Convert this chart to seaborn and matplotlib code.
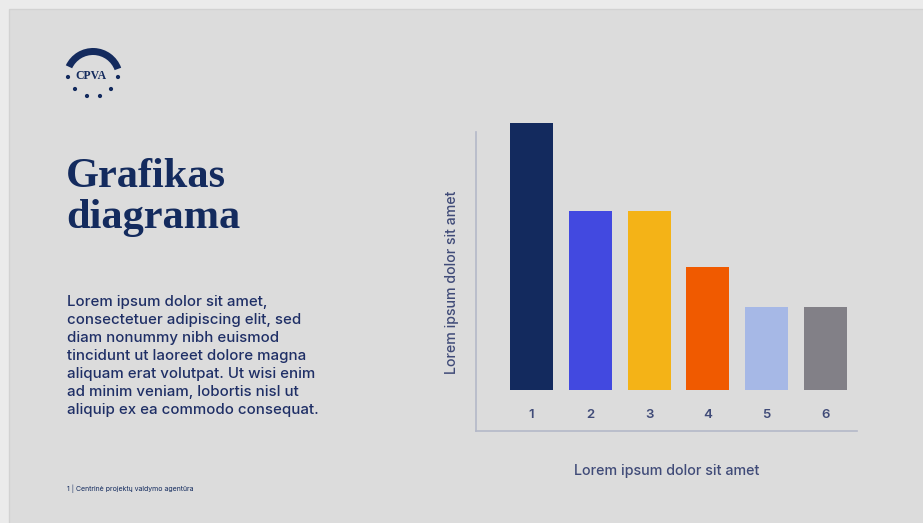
import matplotlib
matplotlib.use('Agg')
import matplotlib.pyplot as plt
import seaborn as sns
from matplotlib.patches import Rectangle, Wedge, Circle

categories = ['1', '2', '3', '4', '5', '6']
values = [10, 6.7, 6.7, 4.6, 3.1, 3.1]
bar_colors = ['#132a5e', '#4249e0', '#f4b317', '#f05a00', '#a6b8e6', '#828087']

title = 'Grafikas\ndiagrama'
body = ('Lorem ipsum dolor sit amet,\n'
        'consectetuer adipiscing elit, sed\n'
        'diam nonummy nibh euismod\n'
        'tincidunt ut laoreet dolore magna\n'
        'aliquam erat volutpat. Ut wisi enim\n'
        'ad minim veniam, lobortis nisl ut\n'
        'aliquip ex ea commodo consequat.')
footnote = '1 | Centrinė projektų valdymo agentūra'
axis_label = 'Lorem ipsum dolor sit amet'

sns.set_theme(style='white')
plt.rcParams['font.family'] = ['Inter', 'DejaVu Sans']

navy = '#142b5e'
label_col = '#404b78'

W, H = 923, 523
fig = plt.figure(figsize=(W / 100, H / 100), dpi=100, facecolor='#ebebeb')

# background "slide" layer in pixel coordinates (y grows downward)
bg = fig.add_axes([0, 0, 1, 1])
bg.set_xlim(0, W)
bg.set_ylim(H, 0)
bg.axis('off')
bg.add_patch(Rectangle((9, 9), W, H, facecolor='#dcdcdc', edgecolor='#d2d2d2', lw=1))

# logo
bg.add_patch(Wedge((93, 78), 30, 205, 340, width=7, facecolor=navy, edgecolor='none'))
bg.text(91, 76, 'CPVA', family='Liberation Serif', fontsize=8.5, fontweight='bold',
        color=navy, ha='center', va='center')
for px, py in [(68, 77), (118, 77), (75, 89), (87, 96), (100, 96), (111, 89)]:
    bg.add_patch(Circle((px, py), 1.4, color=navy))

bg.text(66, 158, title, family='Liberation Serif', fontweight='bold', fontsize=30.5,
        color=navy, va='top', ha='left', linespacing=1.12)
bg.text(67, 295, body, fontsize=10.8, color='#1f2f66', fontweight='medium',
        va='top', ha='left', linespacing=1.36)
bg.text(67, 489, footnote, fontsize=5, color=navy, va='center', ha='left')

# chart axes: left 476, right 857, top 115, bottom 431 (pixels)
ax = fig.add_axes([476 / W, 1 - 431 / H, (857 - 476) / W, (431 - 115) / H])
sns.barplot(x=categories, y=values, hue=categories, palette=bar_colors,
            legend=False, width=0.73, ax=ax, saturation=1, edgecolor='none')
ax.set_facecolor('none')
ax.set_xlim(-0.944, 5.536)
ax.set_ylim(-1.54, 10.3)
ax.spines[['top', 'right']].set_visible(False)
for s in ['left', 'bottom']:
    ax.spines[s].set_color('#b4b8c8')
    ax.spines[s].set_linewidth(1.2)
ax.spines['left'].set_bounds(-1.54, 9.66)
ax.set_yticks([])
ax.tick_params(axis='x', length=0, pad=-15.5, labelsize=9.5, labelcolor=label_col)
for t in ax.get_xticklabels():
    t.set_fontweight('semibold')
ax.set_xlabel(axis_label, fontsize=10.3, color=label_col, fontweight='medium', labelpad=24)
ax.set_ylabel(axis_label, fontsize=10.2, color=label_col, fontweight='medium')
ax.yaxis.set_label_coords((459 - 476) / (857 - 476), (431 - 282) / (431 - 115))

fig.savefig('out.png', dpi=100, facecolor=fig.get_facecolor())
